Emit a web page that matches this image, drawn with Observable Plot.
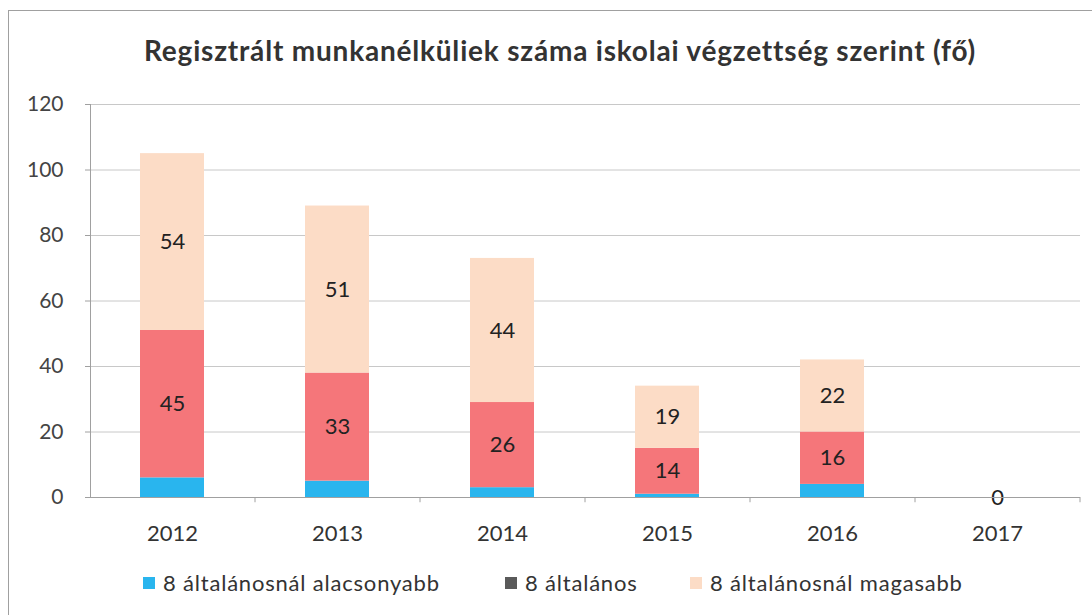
<!DOCTYPE html>
<html>
<head>
<meta charset="utf-8">
<script src="https://cdn.jsdelivr.net/npm/d3@7"></script>
<script src="https://cdn.jsdelivr.net/npm/@observablehq/plot@0.6"></script>
<style>
  html, body { margin: 0; padding: 0; background: #fff; width: 1092px; height: 615px; overflow: hidden; }
  #frame { position: absolute; left: 8px; top: 10px; width: 1100px; height: 620px; border: 1.5px solid #a0a0a0; box-sizing: border-box; }
  #title { position: absolute; left: 0; top: 33px; width: 1120px; text-align: center; font-family: Lato, sans-serif; font-weight: bold; font-size: 28px; letter-spacing: 0.8px; color: #333; white-space: nowrap; }
  #chart { position: absolute; left: 0; top: 85px; }
  #legend { position: absolute; left: 0; top: 569px; width: 1092px; height: 40px; font-family: Lato, sans-serif; font-size: 22px; letter-spacing: 0.8px; color: #333; }
  .item { position: absolute; top: 0; display: flex; align-items: center; gap: 8px; white-space: nowrap; }
  .sw { width: 12px; height: 12px; display: inline-block; }
</style>
</head>
<body>
<div id="frame"></div>
<div id="title">Regisztrált munkanélküliek száma iskolai végzettség szerint (fő)</div>
<div id="chart"></div>
<div id="legend"></div>
<script>
const years = ["2012", "2013", "2014", "2015", "2016", "2017"];
const seriesNames = ["8 általánosnál alacsonyabb", "8 általános", "8 általánosnál magasabb"];
const below8 = [6, 5, 3, 1, 4, 0];
const general8 = [45, 33, 26, 14, 16, 0];
const above8 = [54, 51, 44, 19, 22, 0];
const barColors = ["#29b5ee", "#f5767a", "#fcdcc6"];
const legendColors = ["#29b5ee", "#5a5a5a", "#fcdcc6"];
const yTicks = [0, 20, 40, 60, 80, 100, 120];

const valuesBySeries = [below8, general8, above8];
const data = [];
seriesNames.forEach((s, si) => {
  years.forEach((y, yi) => data.push({year: y, series: s, si, value: valuesBySeries[si][yi]}));
});

const W = 1092, ML = 90, MR = 12;
const step = (W - ML - MR) / years.length;

const chart = Plot.plot({
  width: W,
  height: 470,
  marginTop: 19,
  marginBottom: 58,
  marginLeft: ML,
  marginRight: MR,
  x: {domain: years, paddingInner: 0.61, paddingOuter: 0.305, label: null},
  y: {domain: [0, 120], label: null},
  color: {domain: seriesNames, range: barColors},
  style: {fontFamily: "Lato, sans-serif"},
  marks: [
    Plot.gridY(yTicks, {stroke: "#c8c8c8", strokeOpacity: 1}),
    Plot.barY(data, {x: "year", y: "value", fill: "series", order: seriesNames}),
    Plot.text(data, Plot.stackY({
      x: "year", y: "value", z: "series", order: seriesNames,
      text: d => (d.si !== 0 && (d.value > 0 || d.si === 2)) ? String(d.value) : null,
      fontSize: 22, fill: "#222"
    })),
    Plot.ruleY([0], {stroke: "#a0a0a0"}),
    Plot.ruleX(years, {x: d => d, dx: step / 2, y1: 0, y2: -1.6, stroke: "#a0a0a0"}),
    Plot.frame({anchor: "left", stroke: "#a0a0a0"}),
    Plot.axisY(yTicks, {tickSize: 5, tickPadding: 22, fontSize: 21, fill: "#444", stroke: "#a0a0a0"}),
    Plot.axisX({tickSize: 0, tickPadding: 28, fontSize: 22, fill: "#333"})
  ]
});
document.getElementById("chart").appendChild(chart);

const legendX = [143, 505, 690];
const legend = document.getElementById("legend");
seriesNames.forEach((s, i) => {
  const item = document.createElement("div");
  item.className = "item";
  item.style.left = legendX[i] + "px";
  const sw = document.createElement("span");
  sw.className = "sw";
  sw.style.background = legendColors[i];
  const t = document.createElement("span");
  t.textContent = s;
  item.appendChild(sw);
  item.appendChild(t);
  legend.appendChild(item);
});
</script>
</body>
</html>
